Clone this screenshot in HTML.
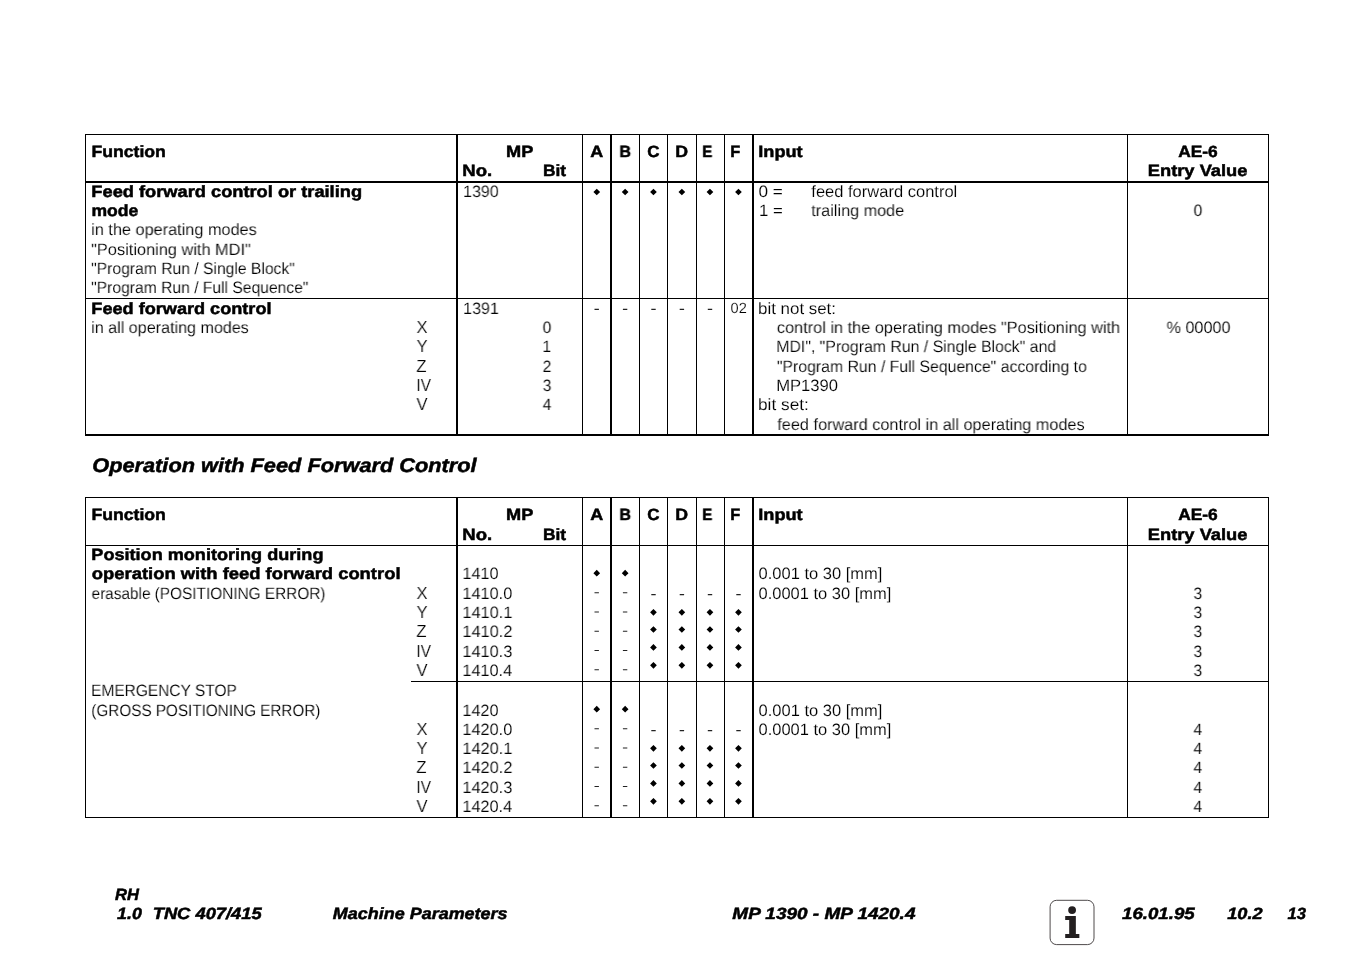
<!DOCTYPE html>
<html>
<head>
<meta charset="utf-8">
<title>MP 1390 - MP 1420.4</title>
<style>
html,body{margin:0;padding:0;background:#fff}
body{width:1351px;height:954px;position:relative;overflow:hidden;font-family:"Liberation Sans",sans-serif;color:#000}
.t{will-change:transform;transform-origin:0 0;position:absolute;white-space:pre;line-height:20px;font-family:"Liberation Sans",sans-serif;color:#000;text-rendering:geometricPrecision}
.k{position:absolute;background:#000}
svg{position:absolute;left:0;top:0}
.b{font-size:16.3px;font-weight:bold;-webkit-text-stroke:0.5px #000}
.l{font-size:16.45px;-webkit-text-stroke:0.13px #fff}
.x{font-size:17.4px;-webkit-text-stroke:0.18px #fff}
.s{font-size:14.6px;-webkit-text-stroke:0.15px #fff}
.h{font-size:19.7px;font-weight:bold;font-style:italic;-webkit-text-stroke:0.5px #000}
.f{font-size:16.3px;font-weight:bold;font-style:italic;-webkit-text-stroke:0.5px #000}
</style>
</head>
<body>
<div class="k" style="left:85px;top:134px;width:1184px;height:1px"></div>
<div class="k" style="left:85px;top:134px;width:1px;height:302px"></div>
<div class="k" style="left:1268px;top:134px;width:1px;height:302px"></div>
<div class="k" style="left:85px;top:434px;width:1184px;height:2px"></div>
<div class="k" style="left:85px;top:181px;width:1184px;height:2px"></div>
<div class="k" style="left:85px;top:298px;width:1184px;height:1px"></div>
<div class="k" style="left:456px;top:134px;width:2px;height:302px"></div>
<div class="k" style="left:582px;top:134px;width:1px;height:302px"></div>
<div class="k" style="left:610px;top:134px;width:2px;height:302px"></div>
<div class="k" style="left:639px;top:134px;width:1px;height:302px"></div>
<div class="k" style="left:667px;top:134px;width:1px;height:302px"></div>
<div class="k" style="left:696px;top:134px;width:1px;height:302px"></div>
<div class="k" style="left:724px;top:134px;width:1px;height:302px"></div>
<div class="k" style="left:752px;top:134px;width:2px;height:302px"></div>
<div class="k" style="left:1127px;top:134px;width:1px;height:302px"></div>
<div class="k" style="left:85px;top:497px;width:1184px;height:1px"></div>
<div class="k" style="left:85px;top:497px;width:1px;height:321px"></div>
<div class="k" style="left:1268px;top:497px;width:1px;height:321px"></div>
<div class="k" style="left:85px;top:817px;width:1184px;height:1px"></div>
<div class="k" style="left:85px;top:545px;width:1184px;height:1px"></div>
<div class="k" style="left:411px;top:681px;width:858px;height:1px"></div>
<div class="k" style="left:456px;top:497px;width:2px;height:321px"></div>
<div class="k" style="left:582px;top:497px;width:1px;height:321px"></div>
<div class="k" style="left:610px;top:497px;width:2px;height:321px"></div>
<div class="k" style="left:639px;top:497px;width:1px;height:321px"></div>
<div class="k" style="left:667px;top:497px;width:1px;height:321px"></div>
<div class="k" style="left:696px;top:497px;width:1px;height:321px"></div>
<div class="k" style="left:724px;top:497px;width:1px;height:321px"></div>
<div class="k" style="left:752px;top:497px;width:2px;height:321px"></div>
<div class="k" style="left:1127px;top:497px;width:1px;height:321px"></div>
<svg width="1351" height="954" viewBox="0 0 1351 954">
<path fill="#000" d="M593.4 192.0l3.35 -3.35l3.35 3.35l-3.35 3.35zM621.8 192.0l3.35 -3.35l3.35 3.35l-3.35 3.35zM650.1 192.0l3.35 -3.35l3.35 3.35l-3.35 3.35zM678.5 192.0l3.35 -3.35l3.35 3.35l-3.35 3.35zM706.6 192.0l3.35 -3.35l3.35 3.35l-3.35 3.35zM735.1 192.0l3.35 -3.35l3.35 3.35l-3.35 3.35zM593.4 573.2l3.35 -3.35l3.35 3.35l-3.35 3.35zM621.8 573.2l3.35 -3.35l3.35 3.35l-3.35 3.35zM650.1 612.3l3.35 -3.35l3.35 3.35l-3.35 3.35zM650.1 629.5l3.35 -3.35l3.35 3.35l-3.35 3.35zM650.1 647.4l3.35 -3.35l3.35 3.35l-3.35 3.35zM650.1 665.3l3.35 -3.35l3.35 3.35l-3.35 3.35zM678.5 612.3l3.35 -3.35l3.35 3.35l-3.35 3.35zM678.5 629.5l3.35 -3.35l3.35 3.35l-3.35 3.35zM678.5 647.4l3.35 -3.35l3.35 3.35l-3.35 3.35zM678.5 665.3l3.35 -3.35l3.35 3.35l-3.35 3.35zM706.6 612.3l3.35 -3.35l3.35 3.35l-3.35 3.35zM706.6 629.5l3.35 -3.35l3.35 3.35l-3.35 3.35zM706.6 647.4l3.35 -3.35l3.35 3.35l-3.35 3.35zM706.6 665.3l3.35 -3.35l3.35 3.35l-3.35 3.35zM735.1 612.3l3.35 -3.35l3.35 3.35l-3.35 3.35zM735.1 629.5l3.35 -3.35l3.35 3.35l-3.35 3.35zM735.1 647.4l3.35 -3.35l3.35 3.35l-3.35 3.35zM735.1 665.3l3.35 -3.35l3.35 3.35l-3.35 3.35zM593.4 709.2l3.35 -3.35l3.35 3.35l-3.35 3.35zM621.8 709.2l3.35 -3.35l3.35 3.35l-3.35 3.35zM650.1 748.3l3.35 -3.35l3.35 3.35l-3.35 3.35zM650.1 765.5l3.35 -3.35l3.35 3.35l-3.35 3.35zM650.1 783.4l3.35 -3.35l3.35 3.35l-3.35 3.35zM650.1 801.3l3.35 -3.35l3.35 3.35l-3.35 3.35zM678.5 748.3l3.35 -3.35l3.35 3.35l-3.35 3.35zM678.5 765.5l3.35 -3.35l3.35 3.35l-3.35 3.35zM678.5 783.4l3.35 -3.35l3.35 3.35l-3.35 3.35zM678.5 801.3l3.35 -3.35l3.35 3.35l-3.35 3.35zM706.6 748.3l3.35 -3.35l3.35 3.35l-3.35 3.35zM706.6 765.5l3.35 -3.35l3.35 3.35l-3.35 3.35zM706.6 783.4l3.35 -3.35l3.35 3.35l-3.35 3.35zM706.6 801.3l3.35 -3.35l3.35 3.35l-3.35 3.35zM735.1 748.3l3.35 -3.35l3.35 3.35l-3.35 3.35zM735.1 765.5l3.35 -3.35l3.35 3.35l-3.35 3.35zM735.1 783.4l3.35 -3.35l3.35 3.35l-3.35 3.35zM735.1 801.3l3.35 -3.35l3.35 3.35l-3.35 3.35z"/>
<path fill="#222" d="M594.5 308.8h4.4v1.1h-4.4zM622.9 308.8h4.4v1.1h-4.4zM651.3 308.8h4.4v1.1h-4.4zM679.7 308.8h4.4v1.1h-4.4zM707.8 308.8h4.4v1.1h-4.4zM594.5 592.2h4.4v1.1h-4.4zM594.5 611.4h4.4v1.1h-4.4zM594.5 630.7h4.4v1.1h-4.4zM594.5 650.0h4.4v1.1h-4.4zM594.5 669.2h4.4v1.1h-4.4zM622.9 592.2h4.4v1.1h-4.4zM622.9 611.4h4.4v1.1h-4.4zM622.9 630.7h4.4v1.1h-4.4zM622.9 650.0h4.4v1.1h-4.4zM622.9 669.2h4.4v1.1h-4.4zM651.3 594.1h4.4v1.1h-4.4zM679.7 594.1h4.4v1.1h-4.4zM707.8 594.1h4.4v1.1h-4.4zM736.3 594.1h4.4v1.1h-4.4zM594.5 728.2h4.4v1.1h-4.4zM594.5 747.4h4.4v1.1h-4.4zM594.5 766.7h4.4v1.1h-4.4zM594.5 786.0h4.4v1.1h-4.4zM594.5 805.2h4.4v1.1h-4.4zM622.9 728.2h4.4v1.1h-4.4zM622.9 747.4h4.4v1.1h-4.4zM622.9 766.7h4.4v1.1h-4.4zM622.9 786.0h4.4v1.1h-4.4zM622.9 805.2h4.4v1.1h-4.4zM651.3 730.1h4.4v1.1h-4.4zM679.7 730.1h4.4v1.1h-4.4zM707.8 730.1h4.4v1.1h-4.4zM736.3 730.1h4.4v1.1h-4.4z"/>
<rect x="1050.1" y="900.3" width="43.9" height="44.3" rx="6.5" ry="6.5" fill="#fff" stroke="#3a3637" stroke-width="0.9"/>
<circle cx="1072.1" cy="910.1" r="3.9" fill="#231f20"/>
<path fill="#231f20" d="M1065.2 916.1h10.65v18h3.5v3.8h-14.15v-3.8h4v-14.2h-4z"/>
</svg>
<div class="t b" style="left:91px;top:142px;transform:translateX(0.39px) scaleX(1.0829)">Function</div>
<div class="t b" style="left:506px;top:142px;transform:translateX(0.06px) scaleX(1.1171)">MP</div>
<div class="t b" style="left:462px;top:161px;transform:translateX(0.34px) scaleX(1.1378)">No.</div>
<div class="t b" style="left:543px;top:161px;transform:translateX(0.00px) scaleX(1.0663)">Bit</div>
<div class="t b" style="left:590px;top:142px;transform:translateX(0.33px) scaleX(1.1024)">A</div>
<div class="t b" style="left:619px;top:142px;transform:translateX(0.37px) scaleX(0.9871)">B</div>
<div class="t b" style="left:647px;top:142px;transform:translateX(0.36px) scaleX(1.0402)">C</div>
<div class="t b" style="left:675px;top:142px;transform:translateX(0.19px) scaleX(1.0867)">D</div>
<div class="t b" style="left:702px;top:142px;transform:translateX(0.22px) scaleX(0.9225)">E</div>
<div class="t b" style="left:730px;top:142px;transform:translateX(0.36px) scaleX(1.0039)">F</div>
<div class="t b" style="left:758px;top:142px;transform:translateX(0.26px) scaleX(1.1156)">Input</div>
<div class="t b" style="left:1178px;top:142px;transform:translateX(0.23px) scaleX(1.0652)">AE-6</div>
<div class="t b" style="left:1147px;top:161px;transform:translateX(0.76px) scaleX(1.1241)">Entry Value</div>
<div class="t b" style="left:91px;top:182px;transform:translateX(0.36px) scaleX(1.1207)">Feed forward control or trailing</div>
<div class="t b" style="left:91px;top:201px;transform:translateX(0.41px) scaleX(1.0779)">mode</div>
<div class="t l" style="left:91px;top:220px;transform:translateX(0.15px) scaleX(0.9903)">in the operating modes</div>
<div class="t l" style="left:91px;top:240px;transform:translateX(0.14px) scaleX(0.9946)">"Positioning with MDI"</div>
<div class="t l" style="left:91px;top:259px;transform:translateX(0.17px) scaleX(0.9535)">"Program Run / Single Block"</div>
<div class="t l" style="left:91px;top:278px;transform:translateX(0.17px) scaleX(0.9520)">"Program Run / Full Sequence"</div>
<div class="t l" style="left:463px;top:182px;transform:translateX(0.01px) scaleX(0.9753)">1390</div>
<div class="t l" style="left:758px;top:182px;transform:translateX(0.46px) scaleX(1.0493)">0 =</div>
<div class="t l" style="left:811px;top:182px;transform:translateX(0.30px) scaleX(1.0047)">feed forward control</div>
<div class="t l" style="left:759px;top:201px;transform:translateX(0.05px) scaleX(1.0228)">1 =</div>
<div class="t l" style="left:811px;top:201px;transform:translateX(0.29px) scaleX(0.9871)">trailing mode</div>
<div class="t l" style="left:1193px;top:201px;transform:translateX(0.58px) scaleX(0.9550)">0</div>
<div class="t b" style="left:91px;top:299px;transform:translateX(0.37px) scaleX(1.1124)">Feed forward control</div>
<div class="t l" style="left:91px;top:318px;transform:translateX(0.16px) scaleX(0.9805)">in all operating modes</div>
<div class="t x" style="left:416px;top:317px;transform:translateX(0.49px) scaleX(0.9550)">X</div>
<div class="t l" style="left:542px;top:318px;transform:translateX(0.63px) scaleX(0.9550)">0</div>
<div class="t x" style="left:416px;top:336px;transform:translateX(0.56px) scaleX(0.9550)">Y</div>
<div class="t l" style="left:542px;top:337px;transform:translateX(0.41px) scaleX(0.9550)">1</div>
<div class="t x" style="left:416px;top:356px;transform:translateX(0.32px) scaleX(0.9550)">Z</div>
<div class="t l" style="left:542px;top:357px;transform:translateX(0.63px) scaleX(0.9550)">2</div>
<div class="t x" style="left:416px;top:375px;transform:translateX(0.39px) scaleX(0.8919)">IV</div>
<div class="t l" style="left:542px;top:376px;transform:translateX(0.67px) scaleX(0.9550)">3</div>
<div class="t x" style="left:416px;top:394px;transform:translateX(0.46px) scaleX(0.9550)">V</div>
<div class="t l" style="left:542px;top:395px;transform:translateX(0.68px) scaleX(0.9550)">4</div>
<div class="t l" style="left:463px;top:299px;transform:translateX(0.01px) scaleX(0.9799)">1391</div>
<div class="t s" style="left:730px;top:299px;transform:translateX(0.55px) scaleX(1.0014)">02</div>
<div class="t l" style="left:758px;top:299px;transform:translateX(0.04px) scaleX(1.0280)">bit not set:</div>
<div class="t l" style="left:776px;top:318px;transform:translateX(0.84px) scaleX(0.9929)">control in the operating modes "Positioning with</div>
<div class="t l" style="left:776px;top:337px;transform:translateX(0.24px) scaleX(0.9628)">MDI", "Program Run / Single Block" and</div>
<div class="t l" style="left:776px;top:357px;transform:translateX(0.87px) scaleX(0.9616)">"Program Run / Full Sequence" according to</div>
<div class="t l" style="left:776px;top:376px;transform:translateX(0.17px) scaleX(1.0116)">MP1390</div>
<div class="t l" style="left:758px;top:395px;transform:translateX(0.02px) scaleX(1.0496)">bit set:</div>
<div class="t l" style="left:777px;top:415px;transform:translateX(0.31px) scaleX(0.9893)">feed forward control in all operating modes</div>
<div class="t l" style="left:1166px;top:318px;transform:translateX(0.56px) scaleX(0.9851)">% 00000</div>
<div class="t h" style="left:92px;top:456px;transform:translateX(0.21px) scaleX(1.1053)">Operation with Feed Forward Control</div>
<div class="t b" style="left:91px;top:505px;transform:translateX(0.39px) scaleX(1.0829)">Function</div>
<div class="t b" style="left:506px;top:505px;transform:translateX(0.06px) scaleX(1.1171)">MP</div>
<div class="t b" style="left:462px;top:525px;transform:translateX(0.34px) scaleX(1.1378)">No.</div>
<div class="t b" style="left:543px;top:525px;transform:translateX(0.00px) scaleX(1.0663)">Bit</div>
<div class="t b" style="left:590px;top:505px;transform:translateX(0.33px) scaleX(1.1024)">A</div>
<div class="t b" style="left:619px;top:505px;transform:translateX(0.37px) scaleX(0.9871)">B</div>
<div class="t b" style="left:647px;top:505px;transform:translateX(0.36px) scaleX(1.0402)">C</div>
<div class="t b" style="left:675px;top:505px;transform:translateX(0.19px) scaleX(1.0867)">D</div>
<div class="t b" style="left:702px;top:505px;transform:translateX(0.22px) scaleX(0.9225)">E</div>
<div class="t b" style="left:730px;top:505px;transform:translateX(0.36px) scaleX(1.0039)">F</div>
<div class="t b" style="left:758px;top:505px;transform:translateX(0.26px) scaleX(1.1156)">Input</div>
<div class="t b" style="left:1178px;top:505px;transform:translateX(0.23px) scaleX(1.0652)">AE-6</div>
<div class="t b" style="left:1147px;top:525px;transform:translateX(0.76px) scaleX(1.1241)">Entry Value</div>
<div class="t b" style="left:91px;top:545px;transform:translateX(0.37px) scaleX(1.1108)">Position monitoring during</div>
<div class="t b" style="left:91px;top:564px;transform:translateX(0.86px) scaleX(1.1298)">operation with feed forward control</div>
<div class="t l" style="left:91px;top:584px;transform:translateX(0.59px) scaleX(0.9343)">erasable (POSITIONING ERROR)</div>
<div class="t l" style="left:91px;top:681px;transform:translateX(0.07px) scaleX(0.9421)">EMERGENCY STOP</div>
<div class="t l" style="left:91px;top:701px;transform:translateX(0.29px) scaleX(0.9291)">(GROSS POSITIONING ERROR)</div>
<div class="t l" style="left:462px;top:564px;transform:translateX(0.40px) scaleX(0.9869)">1410</div>
<div class="t l" style="left:758px;top:564px;transform:translateX(0.49px) scaleX(1.0048)">0.001 to 30 [mm]</div>
<div class="t l" style="left:758px;top:584px;transform:translateX(0.49px) scaleX(1.0026)">0.0001 to 30 [mm]</div>
<div class="t x" style="left:416px;top:583px;transform:translateX(0.49px) scaleX(0.9550)">X</div>
<div class="t l" style="left:462px;top:584px;transform:translateX(0.39px) scaleX(0.9906)">1410.0</div>
<div class="t l" style="left:1193px;top:584px;transform:translateX(0.47px) scaleX(0.9550)">3</div>
<div class="t x" style="left:416px;top:602px;transform:translateX(0.56px) scaleX(0.9550)">Y</div>
<div class="t l" style="left:462px;top:603px;transform:translateX(0.39px) scaleX(0.9939)">1410.1</div>
<div class="t l" style="left:1193px;top:603px;transform:translateX(0.47px) scaleX(0.9550)">3</div>
<div class="t x" style="left:416px;top:621px;transform:translateX(0.32px) scaleX(0.9550)">Z</div>
<div class="t l" style="left:462px;top:622px;transform:translateX(0.39px) scaleX(0.9944)">1410.2</div>
<div class="t l" style="left:1193px;top:622px;transform:translateX(0.47px) scaleX(0.9550)">3</div>
<div class="t x" style="left:416px;top:641px;transform:translateX(0.39px) scaleX(0.8919)">IV</div>
<div class="t l" style="left:462px;top:642px;transform:translateX(0.39px) scaleX(0.9922)">1410.3</div>
<div class="t l" style="left:1193px;top:642px;transform:translateX(0.47px) scaleX(0.9550)">3</div>
<div class="t x" style="left:416px;top:660px;transform:translateX(0.46px) scaleX(0.9550)">V</div>
<div class="t l" style="left:462px;top:661px;transform:translateX(0.40px) scaleX(0.9873)">1410.4</div>
<div class="t l" style="left:1193px;top:661px;transform:translateX(0.47px) scaleX(0.9550)">3</div>
<div class="t l" style="left:462px;top:701px;transform:translateX(0.40px) scaleX(0.9869)">1420</div>
<div class="t l" style="left:758px;top:701px;transform:translateX(0.49px) scaleX(1.0048)">0.001 to 30 [mm]</div>
<div class="t l" style="left:758px;top:720px;transform:translateX(0.49px) scaleX(1.0026)">0.0001 to 30 [mm]</div>
<div class="t x" style="left:416px;top:719px;transform:translateX(0.49px) scaleX(0.9550)">X</div>
<div class="t l" style="left:462px;top:720px;transform:translateX(0.39px) scaleX(0.9906)">1420.0</div>
<div class="t l" style="left:1193px;top:720px;transform:translateX(0.48px) scaleX(0.9550)">4</div>
<div class="t x" style="left:416px;top:738px;transform:translateX(0.56px) scaleX(0.9550)">Y</div>
<div class="t l" style="left:462px;top:739px;transform:translateX(0.39px) scaleX(0.9939)">1420.1</div>
<div class="t l" style="left:1193px;top:739px;transform:translateX(0.48px) scaleX(0.9550)">4</div>
<div class="t x" style="left:416px;top:757px;transform:translateX(0.32px) scaleX(0.9550)">Z</div>
<div class="t l" style="left:462px;top:758px;transform:translateX(0.39px) scaleX(0.9944)">1420.2</div>
<div class="t l" style="left:1193px;top:758px;transform:translateX(0.48px) scaleX(0.9550)">4</div>
<div class="t x" style="left:416px;top:777px;transform:translateX(0.39px) scaleX(0.8919)">IV</div>
<div class="t l" style="left:462px;top:778px;transform:translateX(0.39px) scaleX(0.9922)">1420.3</div>
<div class="t l" style="left:1193px;top:778px;transform:translateX(0.48px) scaleX(0.9550)">4</div>
<div class="t x" style="left:416px;top:796px;transform:translateX(0.46px) scaleX(0.9550)">V</div>
<div class="t l" style="left:462px;top:797px;transform:translateX(0.40px) scaleX(0.9873)">1420.4</div>
<div class="t l" style="left:1193px;top:797px;transform:translateX(0.48px) scaleX(0.9550)">4</div>
<div class="t f" style="left:114px;top:885px;transform:translateX(0.96px) scaleX(1.0163)">RH</div>
<div class="t f" style="left:117px;top:904px;transform:translateX(0.09px) scaleX(1.0960)">1.0</div>
<div class="t f" style="left:152px;top:904px;transform:translateX(0.68px) scaleX(1.1257)">TNC 407/415</div>
<div class="t f" style="left:332px;top:904px;transform:translateX(0.86px) scaleX(1.1029)">Machine Parameters</div>
<div class="t f" style="left:732px;top:904px;transform:translateX(0.36px) scaleX(1.1648)">MP 1390 - MP 1420.4</div>
<div class="t f" style="left:1121px;top:904px;transform:translateX(0.99px) scaleX(1.1470)">16.01.95</div>
<div class="t f" style="left:1227px;top:904px;transform:translateX(0.19px) scaleX(1.1173)">10.2</div>
<div class="t f" style="left:1287px;top:904px;transform:translateX(0.59px) scaleX(1.0231)">13</div>
</body>
</html>
